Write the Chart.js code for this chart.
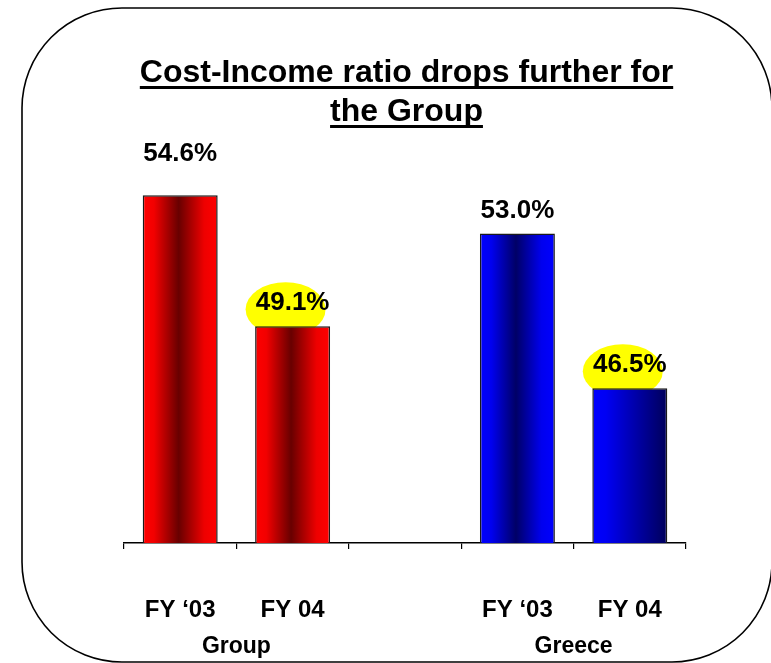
<!DOCTYPE html>
<html>
<head>
<meta charset="utf-8">
<title>Cost-Income ratio</title>
<script src="https://cdn.jsdelivr.net/npm/chart.js@4.4.1/dist/chart.umd.min.js"></script>
<style>
  html, body { margin: 0; padding: 0; background: #fff; }
  canvas { display: block; }
</style>
</head>
<body>
<canvas id="chart" width="771" height="663"></canvas>
<script>
// data
const titleLines = ['Cost-Income ratio drops further for', 'the Group'];
const categories = ['FY \u201803', 'FY 04', '', 'FY \u201803', 'FY 04'];
const ratios = [54.6, 49.1, null, 53.0, 46.5];
const groupLabels = ['Group', 'Greece'];
const groupFirstIndex = [0, 3];
const groupSize = 2;
const highlighted = [1, 4];

const FONT = "'Liberation Sans', Arial, sans-serif";
const BAR_PCT = 0.667;

const redStops = [[0, '#ff0000'], [0.15, '#f20000'], [0.48, '#680000'], [0.82, '#ee0000'], [1, '#ff0000']];
const blueStops = [[0, '#0000ff'], [0.15, '#0000f0'], [0.48, '#000066'], [0.82, '#0000ee'], [1, '#0000ff']];
const blueFadeStops = [[0, '#0000ff'], [0.18, '#0000f4'], [1, '#00005a']];
const barStops = [redStops, redStops, redStops, blueStops, blueFadeStops];

function barGradient(context) {
    const chart = context.chart;
    const xs = chart.scales.x;
    const stops = barStops[context.dataIndex];
    if (!xs || !chart.chartArea) return stops[0][1];
    const cx = xs.getPixelForValue(context.dataIndex);
    const half = xs.width / categories.length * BAR_PCT / 2;
    const g = chart.ctx.createLinearGradient(cx - half, 0, cx + half, 0);
    stops.forEach(([p, c]) => g.addColorStop(p, c));
    return g;
}

const framePlugin = {
    id: 'frame',
    beforeDraw(chart) {
        const ctx = chart.ctx;
        const x = 22, y = 8, w = 750, h = 654, r = 100;
        ctx.save();
        ctx.fillStyle = '#fff';
        ctx.fillRect(0, 0, chart.width, chart.height);
        ctx.beginPath();
        ctx.moveTo(x + r, y);
        ctx.arcTo(x + w, y, x + w, y + h, r);
        ctx.arcTo(x + w, y + h, x, y + h, r);
        ctx.arcTo(x, y + h, x, y, r);
        ctx.arcTo(x, y, x + w, y, r);
        ctx.closePath();
        ctx.lineWidth = 1.6;
        ctx.strokeStyle = '#000';
        ctx.stroke();
        ctx.restore();
    }
};

const titlePlugin = {
    id: 'underlinedTitle',
    afterDraw(chart) {
        const ctx = chart.ctx;
        const cx = 406.5;
        const baselines = [82, 121];
        ctx.save();
        ctx.font = 'bold 32px ' + FONT;
        ctx.fillStyle = '#000';
        ctx.textAlign = 'center';
        ctx.textBaseline = 'alphabetic';
        titleLines.forEach((line, i) => {
            ctx.fillText(line, cx, baselines[i]);
            const w = ctx.measureText(line).width;
            ctx.fillRect(cx - w / 2, baselines[i] + 4, w, 3);
        });
        ctx.restore();
    }
};

const highlightPlugin = {
    id: 'highlight',
    beforeDatasetsDraw(chart) {
        const ctx = chart.ctx;
        const meta = chart.getDatasetMeta(0);
        ctx.save();
        ctx.fillStyle = '#ffff00';
        highlighted.forEach(i => {
            const bar = meta.data[i];
            ctx.beginPath();
            ctx.ellipse(bar.x - 7, bar.y - 17, 40, 27, 0, 0, Math.PI * 2);
            ctx.fill();
        });
        ctx.restore();
    }
};

const valueLabelPlugin = {
    id: 'valueLabels',
    afterDatasetsDraw(chart) {
        const ctx = chart.ctx;
        const meta = chart.getDatasetMeta(0);
        ctx.save();
        ctx.font = 'bold 26px ' + FONT;
        ctx.fillStyle = '#000';
        ctx.textAlign = 'center';
        ctx.textBaseline = 'middle';
        meta.data.forEach((bar, i) => {
            const v = ratios[i];
            if (v == null) return;
            // the tallest bar carries its label a little higher on the slide
            const lift = i === 0 ? 42 : 23;
            ctx.fillText(v.toFixed(1) + '%', bar.x, bar.y - lift);
        });
        ctx.restore();
    }
};

new Chart(document.getElementById('chart').getContext('2d'), {
    type: 'bar',
    data: {
        labels: categories,
        datasets: [{
            data: ratios,
            backgroundColor: barGradient,
            borderColor: '#1a1a1a',
            borderWidth: 1.5,
            barPercentage: BAR_PCT,
            categoryPercentage: 1
        }]
    },
    options: {
        responsive: false,
        animation: false,
        layout: { padding: { left: 124, right: 85, top: 162, bottom: 0 } },
        plugins: {
            legend: { display: false },
            title: { display: false },
            tooltip: { enabled: false }
        },
        scales: {
            y: { display: false, min: 40, max: 56 },
            x: {
                weight: 0,
                grid: { drawOnChartArea: false, drawTicks: true, tickLength: 6, color: '#000', lineWidth: 1.2 },
                border: { display: true, color: '#000', width: 1.6 },
                ticks: { color: '#000', padding: 47, maxRotation: 0, autoSkip: false, font: { family: FONT, size: 24, weight: 'bold' } },
                afterFit(scale) { scale.height = 80; }
            },
            x2: {
                type: 'linear',
                position: 'bottom',
                weight: 1,
                offset: false,
                min: 0,
                max: categories.length,
                grid: { display: false },
                border: { display: false },
                afterBuildTicks(scale) {
                    scale.ticks = groupFirstIndex.map(s => ({ value: s + groupSize / 2 }));
                },
                ticks: {
                    color: '#000',
                    padding: 2,
                    font: { family: FONT, size: 23, weight: 'bold' },
                    callback(value) {
                        const k = groupFirstIndex.findIndex(s => s + groupSize / 2 === value);
                        return k >= 0 ? groupLabels[k] : '';
                    }
                },
                afterFit(scale) { scale.height = 40; }
            }
        }
    },
    plugins: [framePlugin, highlightPlugin, valueLabelPlugin, titlePlugin]
});
</script>
</body>
</html>
